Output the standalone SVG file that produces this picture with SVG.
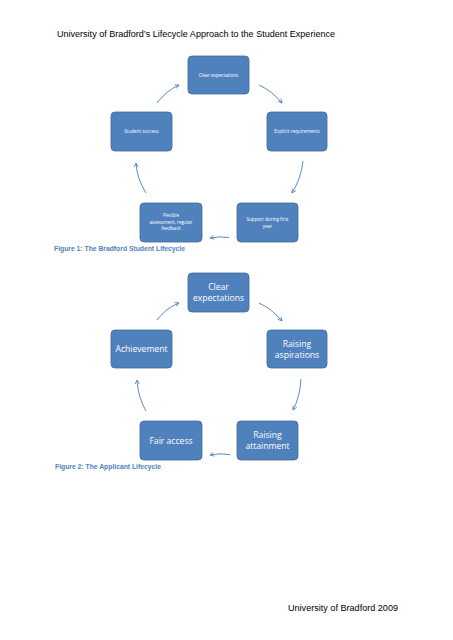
<svg xmlns="http://www.w3.org/2000/svg" width="453" height="640" viewBox="0 0 453 640">
<defs>
<style>
.node rect{fill:#4F81BD;stroke:#41699A;stroke-width:0.8}
.s{fill:#fff;font-family:"Open Sans","Liberation Sans",sans-serif;font-size:4.6px;text-anchor:middle}
.b{fill:#fff;font-family:"Open Sans","Liberation Sans",sans-serif;font-size:8.6px;text-anchor:middle}
.con path{fill:none;stroke:#4A7EBB;stroke-width:0.9;marker-end:url(#ah)}
.cap{fill:#4F81BD;font-family:"Liberation Sans",Arial,sans-serif;font-size:7px;font-weight:bold}
.hdr{fill:#000;font-family:"Liberation Sans",Arial,sans-serif;font-size:9.6px}
</style>
<marker id="ah" viewBox="0 0 10 10" refX="9" refY="5" markerWidth="5" markerHeight="5" orient="auto" markerUnits="userSpaceOnUse">
<path d="M1,1 L9,5 L1,9" fill="none" stroke="#4A7EBB" stroke-width="1.6"/>
</marker>
</defs>
<rect width="453" height="640" fill="#fff"/>
<text class="hdr" x="57" y="37" textLength="278" lengthAdjust="spacingAndGlyphs">University of Bradford’s Lifecycle Approach to the Student Experience</text>

<g id="fig1-clear" class="node"><rect x="188" y="56" width="61" height="38" rx="4"/><text class="s" x="218.5" y="76.5">Clear expectations</text></g>
<g id="fig1-explicit" class="node"><rect x="267" y="112" width="60" height="39" rx="4"/><text class="s" x="297" y="133">Explicit requirements</text></g>
<g id="fig1-support" class="node"><rect x="237" y="203" width="61" height="39" rx="4"/><text class="s" x="267.5" y="221">Support during first</text><text class="s" x="267.5" y="227.5">year</text></g>
<g id="fig1-flexible" class="node"><rect x="140" y="203" width="62" height="39" rx="4"/><text class="s" x="171" y="217">Flexible</text><text class="s" x="171" y="223.5">assessment, regular</text><text class="s" x="171" y="230">feedback</text></g>
<g id="fig1-success" class="node"><rect x="111" y="112" width="61" height="39" rx="4"/><text class="s" x="141.5" y="133">Student success</text></g>

<g id="connectors" class="con">
<path d="M259,85 Q272,91 282,103"/>
<path d="M303,161 Q301,179 292,193"/>
<path d="M229,237.5 Q220,236 210,238"/>
<path d="M146,193 Q137,179 136,163"/>
<path d="M157,103 Q166,91 179,85"/>

<path d="M259,303 Q272,309 282,321"/>
<path d="M301,379 Q300,397 293,410"/>
<path d="M230,454.5 Q220,453 210,455"/>
<path d="M146,411 Q138,397 137,380"/>
<path d="M157,320 Q166,308 179,303"/>
</g>

<text class="cap" x="54" y="251" textLength="131" lengthAdjust="spacingAndGlyphs">Figure 1: The Bradford Student Lifecycle</text>

<g id="fig2-clear" class="node"><rect x="188" y="273" width="61" height="39" rx="4"/><text class="b" x="218.5" y="290">Clear</text><text class="b" x="218.5" y="301">expectations</text></g>
<g id="fig2-aspirations" class="node"><rect x="267" y="330" width="60" height="38" rx="4"/><text class="b" x="297" y="346.5">Raising</text><text class="b" x="297" y="357.5">aspirations</text></g>
<g id="fig2-attainment" class="node"><rect x="237" y="421" width="61" height="39" rx="4"/><text class="b" x="267.5" y="438">Raising</text><text class="b" x="267.5" y="449">attainment</text></g>
<g id="fig2-fair" class="node"><rect x="140" y="421" width="62" height="39" rx="4"/><text class="b" x="171" y="443.5">Fair access</text></g>
<g id="fig2-achievement" class="node"><rect x="111" y="330" width="61" height="38" rx="4"/><text class="b" x="141.5" y="352">Achievement</text></g>

<text class="cap" x="55" y="468.5" textLength="106" lengthAdjust="spacingAndGlyphs">Figure 2: The Applicant Lifecycle</text>

<text class="hdr" x="288" y="611" textLength="110" lengthAdjust="spacingAndGlyphs">University of Bradford 2009</text>
</svg>
